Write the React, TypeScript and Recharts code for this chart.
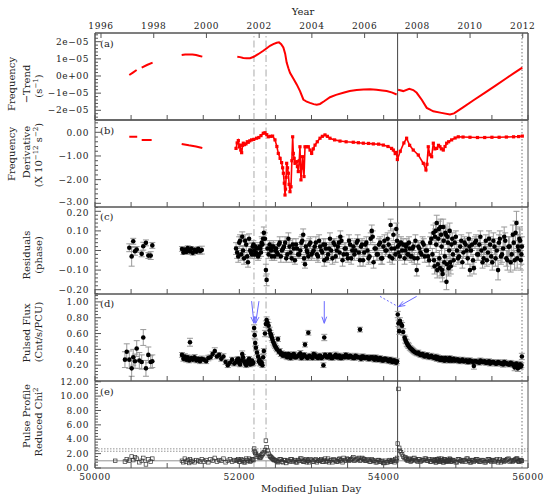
import React from 'react';
import { ComposedChart, Line, Scatter, ErrorBar, XAxis, YAxis, ReferenceLine, ReferenceArea } from 'recharts';

const W = 558;
const H = 504;
const LEFT = 95;
const RIGHT = 528;
const PANEL_H = 87;
const AXIS_W = 40;
const AXIS_H = 20;
const FONT = 'DejaVu Serif';
const TICK_FS = 9;
const TEXT = '#222';
const FRAME = '#555';
const RED = '#ff0000';
const BLUE = '#6a6aff';

const MJD_DOMAIN: [number, number] = [50000, 56000];
const mjdTicks = [50000, 50500, 51000, 51500, 52000, 52500, 53000, 53500, 54000, 54500, 55000, 55500, 56000];
const mjdLabelTicks = [50000, 52000, 54000, 56000];
const yearTicks = [50083, 50814, 51544, 52275, 53005, 53736, 54466, 55197, 55927];
const yearLabels = ['1996', '1998', '2000', '2002', '2004', '2006', '2008', '2010', '2012'];

// vertical markers (MJD)
const glitchEpochs = [52203, 52370];
const outburstEpoch = 54193;
const lastEpoch = 55917;

// (a) frequency minus trend, units of 1e-5 s^-1 (null = gap)
const freqMjd = [50475, 50525, 50577, 50610, 50647, 50720, 50798, 51000, 51201, 51250, 51300, 51350, 51400, 51450, 51487, 51700,
  51972, 52010, 52055, 52100, 52148, 52200, 52260, 52332, 52380, 52425, 52470, 52518, 52550, 52580, 52610, 52635, 52656, 52680,
  52702, 52748, 52795, 52841, 52887, 52934, 52979, 53030, 53072, 53118, 53180, 53256, 53340, 53441, 53530, 53626, 53720, 53811,
  53900, 53980, 54042, 54120, 54180, 54190, 54200, 54272, 54355, 54410, 54458, 54530, 54597, 54650, 54688, 54800, 54919, 54975,
  55100, 55250, 55400, 55550, 55700, 55800, 55921];
const freqTrend = [0.06, 0.2, 0.35, null, 0.49, 0.64, 0.78, null, 1.22, 1.25, 1.26, 1.25, 1.22, 1.17, 1.13, null,
  1.12, 1.1, 1.05, 1.03, 1.04, 1.12, 1.27, 1.47, 1.62, 1.76, 1.86, 1.94, 1.96, 1.86, 1.66, 1.3, 0.78, 0.45,
  0.19, -0.14, -0.49, -0.88, -1.37, -1.5, -1.57, -1.64, -1.67, -1.63, -1.46, -1.24, -1.1, -0.98, -0.88, -0.82, -0.79, -0.78,
  -0.8, -0.84, -0.88, -0.97, -1.08, null, -0.8, -0.88, -0.75, -0.82, -0.98, -1.4, -1.86, -1.98, -2.06, -2.15, -2.25, -2.18,
  -1.83, -1.4, -0.98, -0.56, -0.13, 0.15, 0.49];

// (b) frequency derivative, 1e-12 s^-2
const fdotEarlyMjd = [50475, 50530, 50585, 50615, 50647, 50720, 50785, 51000, 51201, 51300, 51400, 51487];
const fdotEarly = [-0.19, -0.19, -0.19, null, -0.32, -0.32, -0.32, null, -0.49, -0.55, -0.6, -0.66];
const fdotMjd = [51954, 51970, 51986, 52000, 52009, 52020, 52032, 52045, 52055, 52070, 52092, 52110, 52124, 52145, 52170, 52200,
  52239, 52270, 52300, 52332, 52355, 52380, 52401, 52430, 52461, 52494, 52520, 52540, 52565, 52586, 52600, 52610, 52623, 52633,
  52640, 52648, 52656, 52668, 52679, 52690, 52702, 52716, 52728, 52739, 52748, 52760, 52771, 52794, 52805, 52817, 52830, 52840,
  52854, 52866, 52877, 52888, 52896, 52910, 52935, 52956, 52980, 53002, 53025, 53049, 53080, 53118, 53150, 53187, 53220, 53256,
  53320, 53395, 53480, 53579, 53650, 53718, 53790, 53857, 53930, 53995, 54060, 54110, 54134, 54160, 54175, 54190, 54230, 54280,
  54318, 54360, 54410, 54480, 54549, 54586, 54600, 54618, 54640, 54665, 54688, 54710, 54734, 54760, 54780, 54800, 54826, 54850,
  54873, 54900, 54942, 54990, 55034, 55100, 55196, 55300, 55400, 55500, 55600, 55700, 55800, 55870, 55921];
const fdot = [-0.68, -0.45, -0.35, -0.62, -0.54, -0.75, -0.86, -0.55, -0.46, -0.52, -0.49, -0.4, -0.42, -0.36, -0.32, -0.3,
  -0.25, -0.22, -0.14, -0.04, -0.02, -0.1, -0.19, -0.17, -0.16, -0.32, -0.6, -0.89, -1.1, -1.28, -1.5, -1.73, -2.15, -2.65,
  -2.4, -1.9, -1.31, -1.5, -1.73, -2.2, -2.51, -2.3, -1.2, -0.19, -0.89, -1.1, -1.31, -1.24, -1.45, -1.66, -1.2, -0.61,
  -2.01, -1.5, -1.03, -1.5, -1.87, -0.61, -0.61, -0.61, -0.75, -0.89, -0.7, -0.54, -0.4, -0.25, -0.17, -0.11, -0.17, -0.25,
  -0.32, -0.37, -0.4, -0.42, -0.44, -0.46, -0.47, -0.49, -0.5, -0.54, -0.6, -0.68, -0.75, -0.9, -0.85, -1.15, -0.8, -0.45,
  -0.25, -0.55, -0.75, -0.96, -1.31, -1.59, -1.35, -0.61, -0.95, -1.03, -0.46, -0.7, -0.68, -0.55, -0.61, -0.7, -0.75, -0.6,
  -0.46, -0.4, -0.32, -0.24, -0.19, -0.2, -0.21, -0.22, -0.22, -0.21, -0.21, -0.2, -0.19, -0.18, -0.16];

// (c)-(e) per-observation values
const epochs = [
  50280, 50415, 50440, 50475, 50508, 50530, 50554, 50578, 50614, 50647, 50669, 50706, 50739, 50772, 50794,
  51205, 51225, 51245, 51265, 51285, 51305, 51316, 51335, 51355, 51380, 51405, 51430, 51455, 51480,
  51510, 51540, 51570, 51600, 51630, 51660, 51690, 51720, 51750, 51780, 51810, 51840, 51870, 51900, 51930,
  51955, 51985, 52010, 52040, 52065, 52095, 52120, 52150, 52175, 52195,
  52205, 52212, 52220, 52230, 52245, 52260, 52280, 52300, 52320, 52340,
  52355, 52368, 52378, 52390, 52405, 52420, 52440, 52460, 52485, 52510,
  52535, 52560, 52590, 52620, 52650, 52680, 52710, 52740, 52770, 52800,
  52830, 52860, 52885, 52910, 52935, 52956, 52985, 53015, 53045, 53075,
  53105, 53135, 53165, 53177, 53200, 53230, 53256, 53290, 53320, 53350,
  53380, 53400, 53430, 53460, 53490, 53520, 53550, 53580, 53610, 53640,
  53672, 53700, 53730, 53760, 53790, 53820, 53835, 53860, 53890, 53920,
  53950, 53980, 54010, 54040, 54070, 54097, 54120, 54150, 54175, 54195,
  54205, 54215, 54225, 54240, 54255, 54270, 54290, 54310, 54330, 54350,
  54375, 54400, 54425, 54458, 54480, 54510, 54540, 54570, 54600, 54630,
  54660, 54690, 54705, 54720, 54735, 54750, 54765, 54780, 54795, 54810,
  54825, 54840, 54855, 54870, 54885, 54900, 54915, 54930, 54950, 54970,
  55000, 55030, 55060, 55090, 55120, 55150, 55180, 55196, 55225, 55250,
  55280, 55310, 55340, 55370, 55400, 55430, 55460, 55490, 55520, 55550,
  55585, 55610, 55640, 55670, 55700, 55730, 55760, 55790, 55815, 55840,
  55860, 55880, 55900, 55915];

const residuals = [
  null, null, null, 0.014, -0.03, 0.047, -0.004, 0.005, null, -0.017, 0.022, 0.039, -0.026, -0.026, 0.026,
  0.008, -0.01, 0.005, -0.008, 0.012, 0.0, -0.005, 0.01, -0.012, 0.004, -0.006, 0.009, -0.003, 0.002,
  null, null, null, null, null, null, null, null, null, null, null, null, null, null, null,
  0.01, -0.03, 0.05, 0.07, -0.04, 0.03, -0.06, 0.0, -0.02, 0.03,
  0.0, -0.02, 0.02, -0.01, 0.01, -0.03, 0.02, -0.01, 0.03, 0.09,
  0.06, -0.1, -0.15, 0.01, -0.02, 0.03, 0.0, 0.02, -0.03, 0.01,
  -0.02, 0.04, 0.0, 0.02, -0.04, 0.06, -0.01, 0.03, -0.05, 0.01,
  -0.02, 0.04, 0.08, -0.07, 0.0, -0.03, 0.04, -0.01, 0.02, -0.02,
  0.05, 0.0, 0.03, -0.05, 0.01, -0.02, 0.06, -0.04, 0.03, 0.0,
  0.04, 0.07, -0.05, 0.01, -0.02, 0.05, -0.04, 0.02, 0.0, 0.05,
  -0.05, 0.03, -0.01, 0.04, -0.04, 0.06, 0.1, -0.06, 0.01, -0.02,
  0.04, -0.04, 0.05, 0.0, 0.03, 0.13, -0.04, 0.01, 0.11, 0.02,
  -0.01, 0.03, -0.03, 0.04, 0.0, 0.03, -0.04, 0.02, -0.02, 0.04,
  -0.03, 0.01, -0.04, -0.1, 0.02, -0.01, 0.04, -0.03, 0.0, -0.05,
  0.06, 0.09, -0.08, 0.1, 0.14, -0.07, 0.11, -0.09, 0.08, -0.1,
  0.12, -0.06, 0.09, -0.16, 0.07, -0.09, 0.1, -0.08, 0.06, -0.05,
  0.07, -0.04, 0.02, -0.06, 0.04, 0.0, 0.06, -0.1, 0.03, -0.09,
  0.05, -0.02, 0.07, -0.06, 0.01, -0.05, 0.06, -0.03, 0.05, -0.04,
  -0.1, 0.06, -0.02, 0.07, -0.04, 0.02, -0.06, 0.08, -0.05, 0.14,
  0.02, 0.06, -0.05, 0.02];

const residualErr = [
  null, null, null, 0.02, 0.05, 0.015, 0.02, 0.015, null, 0.015, 0.02, 0.015, 0.015, 0.02, 0.015,
  0.012, 0.01, 0.012, 0.01, 0.012, 0.01, 0.015, 0.01, 0.012, 0.01, 0.012, 0.01, 0.015, 0.02,
  null, null, null, null, null, null, null, null, null, null, null, null, null, null, null,
  0.03, 0.03, 0.03, 0.025, 0.03, 0.03, 0.025, 0.02, 0.02, 0.02,
  0.02, 0.02, 0.02, 0.02, 0.02, 0.02, 0.02, 0.02, 0.03, 0.03,
  0.03, 0.03, 0.03, 0.02, 0.02, 0.02, 0.02, 0.02, 0.02, 0.02,
  0.02, 0.03, 0.03, 0.03, 0.02, 0.03, 0.02, 0.03, 0.02, 0.03,
  0.02, 0.03, 0.03, 0.02, 0.03, 0.02, 0.03, 0.03, 0.02, 0.03,
  0.03, 0.02, 0.03, 0.03, 0.02, 0.03, 0.03, 0.03, 0.03, 0.02,
  0.03, 0.03, 0.03, 0.03, 0.02, 0.03, 0.03, 0.03, 0.02, 0.03,
  0.03, 0.03, 0.02, 0.03, 0.03, 0.03, 0.03, 0.03, 0.02, 0.03,
  0.03, 0.03, 0.03, 0.02, 0.03, 0.03, 0.03, 0.03, 0.03, 0.02,
  0.02, 0.02, 0.02, 0.03, 0.02, 0.03, 0.03, 0.02, 0.03, 0.03,
  0.02, 0.03, 0.03, 0.03, 0.03, 0.02, 0.03, 0.03, 0.03, 0.03,
  0.03, 0.04, 0.04, 0.04, 0.04, 0.04, 0.04, 0.04, 0.04, 0.04,
  0.04, 0.04, 0.04, 0.04, 0.04, 0.04, 0.04, 0.04, 0.03, 0.03,
  0.03, 0.03, 0.03, 0.03, 0.03, 0.03, 0.03, 0.03, 0.03, 0.03,
  0.03, 0.03, 0.03, 0.03, 0.03, 0.03, 0.04, 0.04, 0.04, 0.04,
  0.05, 0.04, 0.04, 0.05, 0.04, 0.05, 0.05, 0.05, 0.05, 0.06,
  0.06, 0.06, 0.05, 0.05];

const pulsedFlux = [
  null, 0.27, 0.37, 0.27, 0.16, 0.3, 0.25, 0.41, 0.26, 0.24, 0.55, 0.16, 0.33, 0.24, 0.25,
  0.33, 0.28, 0.31, 0.27, 0.3, 0.26, 0.49, 0.29, 0.27, 0.3, 0.26, 0.28, 0.25, 0.28,
  0.27, 0.25, 0.29, 0.3, 0.34, 0.38, 0.31, 0.33, 0.28, 0.31, 0.24, 0.2, 0.23, 0.27, 0.22,
  0.24, 0.28, 0.21, 0.34, 0.25, 0.2, 0.24, 0.21, 0.26, 0.23,
  0.67, 0.58, 0.48, 0.42, 0.36, 0.31, 0.27, 0.24, 0.2, 0.38,
  0.6, 0.72, 0.77, 0.74, 0.7, 0.64, 0.58, 0.52, 0.46, 0.42,
  0.53, 0.38, 0.35, 0.33, 0.31, 0.34, 0.29, 0.33, 0.3, 0.31,
  0.33, 0.29, 0.32, 0.46, 0.3, 0.61, 0.31, 0.29, 0.33, 0.3,
  0.32, 0.29, 0.2, 0.55, 0.31, 0.3, 0.33, 0.29, 0.31, 0.3,
  0.32, 0.29, 0.31, 0.3, 0.32, 0.3, 0.31, 0.29, 0.32, 0.3,
  0.65, 0.31, 0.29, 0.3, 0.28, 0.3, 0.29, 0.28, 0.3, 0.27,
  0.29, 0.26, 0.28, 0.27, 0.25, 0.27, 0.24, 0.26, 0.23, 0.84,
  0.73, 0.63, 0.76, 0.72, 0.7, 0.62, 0.55, 0.5, 0.46, 0.44,
  0.41, 0.39, 0.37, 0.35, 0.36, 0.33, 0.34, 0.31, 0.33, 0.3,
  0.32, 0.3, 0.29, 0.31, 0.28, 0.3, 0.28, 0.27, 0.29, 0.27,
  0.28, 0.26, 0.29, 0.27, 0.28, 0.26, 0.29, 0.27, 0.26, 0.28,
  0.26, 0.27, 0.25, 0.27, 0.25, 0.26, 0.24, 0.26, 0.25, 0.19,
  0.25, 0.24, 0.26, 0.24, 0.25, 0.23, 0.25, 0.23, 0.24, 0.22,
  0.24, 0.23, 0.22, 0.24, 0.22, 0.21, 0.23, 0.21, 0.17, 0.22,
  0.16, 0.2, 0.18, 0.31];

const pulsedFluxErr = [
  null, 0.1, 0.1, 0.11, 0.1, 0.1, 0.09, 0.1, 0.1, 0.09, 0.1, 0.1, 0.1, 0.08, 0.08,
  0.03, 0.03, 0.035, 0.03, 0.03, 0.03, 0.05, 0.03, 0.03, 0.035, 0.03, 0.03, 0.03, 0.035,
  0.03, 0.03, 0.035, 0.03, 0.03, 0.04, 0.03, 0.03, 0.03, 0.035, 0.03, 0.03, 0.035, 0.03, 0.03,
  0.03, 0.03, 0.03, 0.04, 0.03, 0.03, 0.03, 0.03, 0.03, 0.03,
  0.04, 0.04, 0.04, 0.03, 0.03, 0.03, 0.03, 0.03, 0.03, 0.03,
  0.04, 0.04, 0.04, 0.04, 0.04, 0.04, 0.03, 0.03, 0.03, 0.03,
  0.03, 0.03, 0.03, 0.03, 0.03, 0.03, 0.03, 0.03, 0.03, 0.03,
  0.03, 0.03, 0.03, 0.03, 0.03, 0.03, 0.03, 0.03, 0.03, 0.03,
  0.03, 0.03, 0.03, 0.04, 0.03, 0.03, 0.03, 0.03, 0.03, 0.03,
  0.03, 0.03, 0.03, 0.03, 0.03, 0.03, 0.03, 0.03, 0.03, 0.03,
  0.03, 0.03, 0.03, 0.03, 0.03, 0.03, 0.03, 0.03, 0.03, 0.03,
  0.03, 0.03, 0.03, 0.03, 0.03, 0.03, 0.03, 0.03, 0.03, 0.04,
  0.04, 0.04, 0.04, 0.04, 0.04, 0.04, 0.03, 0.03, 0.03, 0.03,
  0.03, 0.03, 0.03, 0.03, 0.03, 0.03, 0.03, 0.03, 0.03, 0.03,
  0.03, 0.03, 0.03, 0.03, 0.03, 0.03, 0.03, 0.03, 0.03, 0.03,
  0.03, 0.03, 0.03, 0.03, 0.03, 0.03, 0.03, 0.03, 0.03, 0.03,
  0.03, 0.03, 0.03, 0.03, 0.03, 0.03, 0.03, 0.03, 0.03, 0.04,
  0.03, 0.03, 0.03, 0.03, 0.03, 0.03, 0.03, 0.03, 0.03, 0.03,
  0.03, 0.03, 0.03, 0.03, 0.03, 0.03, 0.03, 0.03, 0.04, 0.03,
  0.04, 0.03, 0.03, 0.04];

const chi2 = [
  1.0, 0.9, 1.2, 1.0, 1.6, 1.1, 1.5, 1.3, 0.8, 1.0, 1.4, 0.5, 1.2, 0.9, 1.3,
  1.0, 0.8, 1.3, 0.9, 1.1, 0.7, 1.2, 0.9, 1.0, 0.8, 1.1, 1.0, 0.9, 1.2,
  0.9, 1.1, 0.8, 1.2, 1.0, 1.4, 0.9, 1.1, 1.0, 1.3, 0.8, 1.0, 1.2, 0.9, 1.1,
  1.0, 1.2, 0.9, 1.1, 0.8, 1.3, 1.0, 0.9, 1.2, 1.1,
  2.7, 2.3, 2.1, 1.9, 1.6, 1.8, 1.4, 1.5, 1.9, 2.2,
  2.5, 3.8, 2.9, 2.4, 2.0, 1.7, 1.5, 1.3, 1.1, 1.0,
  0.8, 1.2, 0.9, 1.1, 0.7, 1.0, 1.2, 0.9, 1.1, 0.8,
  1.0, 1.3, 0.9, 1.1, 0.8, 1.0, 1.2, 0.9, 1.1, 0.8,
  1.0, 1.2, 0.9, 1.1, 0.9, 1.3, 1.0, 0.8, 1.1, 0.9,
  1.2, 1.0, 0.8, 1.1, 1.3, 1.0, 1.2, 1.5, 1.1, 1.3,
  1.0, 1.4, 1.2, 1.0, 1.1, 0.9, 1.2, 1.0, 0.8, 1.1,
  0.9, 1.0, 0.7, 0.8, 1.0, 0.9, 1.1, 0.8, 1.0, 3.4,
  11.0, 2.8, 2.4, 2.2, 1.9, 1.6, 1.4, 1.2, 1.0, 1.3,
  0.9, 1.1, 1.4, 1.0, 1.2, 0.9, 1.1, 1.3, 1.0, 1.2,
  0.9, 1.1, 1.0, 0.8, 1.2, 1.0, 1.3, 0.9, 1.1, 1.0,
  0.8, 1.2, 1.0, 0.9, 1.1, 1.0, 1.3, 0.9, 1.1, 1.0,
  0.8, 1.2, 1.0, 0.9, 1.1, 1.3, 1.0, 0.8, 1.1, 0.9,
  1.2, 1.0, 0.9, 1.1, 0.8, 1.0, 1.2, 0.9, 1.1, 1.0,
  0.8, 1.2, 1.0, 0.9, 1.1, 1.3, 1.0, 0.9, 1.1, 1.3,
  1.0, 0.9, 1.1, 1.0];

// further observations in the densely sampled years (2001-2012)
const epochsFill = [
  51970, 51998, 52025, 52052, 52080, 52108, 52135, 52162, 52185,
  52270, 52290, 52310, 52330,
  52430, 52450, 52472, 52497, 52522, 52547, 52575, 52605, 52635, 52665,
  52695, 52725, 52755, 52785, 52815, 52845, 52872, 52897, 52922, 52945,
  52970, 53000, 53030, 53060, 53090, 53120, 53150, 53188, 53215, 53243,
  53273, 53305, 53335, 53365, 53390, 53415, 53445, 53475, 53505, 53535,
  53565, 53595, 53625, 53656, 53686, 53715, 53745, 53775, 53805, 53848,
  53875, 53905, 53935, 53965, 53995, 54025, 54055, 54083, 54108, 54135,
  54162, 54185,
  54300, 54320, 54340, 54362, 54388, 54412, 54440, 54470, 54495, 54525,
  54555, 54585, 54615, 54645, 54675, 54697, 54712, 54727, 54742, 54757,
  54772, 54787, 54802, 54817, 54832, 54847, 54862, 54877, 54892, 54907,
  54922, 54940, 54960, 54985, 55015, 55045, 55075, 55105, 55135, 55165,
  55188, 55210, 55238, 55265, 55295, 55325, 55355, 55385, 55415, 55445,
  55475, 55505, 55535, 55568, 55598, 55625, 55655, 55685, 55715, 55745,
  55775, 55802, 55828, 55850, 55870, 55890, 55908];

const residualsFill = [
  -0.01, 0.04, -0.02, 0.0, 0.05, -0.03, 0.06, -0.01, 0.02,
  -0.02, 0.01, 0.04, 0.06,
  0.01, -0.03, 0.02, 0.0, -0.01, 0.03, -0.03, 0.01, 0.04, -0.02,
  0.02, -0.04, 0.01, 0.03, -0.02, 0.0, 0.05, -0.04, 0.02, -0.01,
  0.03, -0.02, 0.0, 0.04, -0.03, 0.02, -0.01, 0.03, -0.04, 0.01,
  0.0, 0.04, -0.03, 0.02, -0.01, 0.05, -0.02, 0.01, -0.04, 0.03,
  0.0, -0.02, 0.04, -0.01, 0.02, -0.05, 0.03, 0.0, -0.03, 0.07,
  0.01, -0.02, 0.03, -0.04, 0.02, 0.0, 0.06, -0.03, 0.01, 0.08,
  -0.02, 0.05,
  0.0, 0.03, -0.02, 0.01, -0.03, 0.02, 0.05, -0.04, 0.01, -0.02,
  0.03, 0.0, -0.03, 0.04, -0.02, -0.05, 0.07, 0.03, -0.1, 0.06,
  -0.04, 0.12, 0.02, -0.12, 0.05, -0.03, 0.08, -0.07, 0.04, 0.0,
  -0.06, 0.03, -0.02, 0.04, 0.0, -0.03, 0.05, -0.01, 0.03, -0.04,
  0.02, 0.0, -0.05, 0.04, -0.02, 0.03, 0.0, -0.04, 0.05, -0.01,
  0.03, -0.06, 0.02, 0.0, 0.04, -0.03, 0.01, 0.05, -0.05, 0.02,
  -0.02, 0.04, 0.09, -0.04, 0.0, 0.05, -0.02];

const residualFillErr = [
  0.03, 0.03, 0.03, 0.025, 0.03, 0.03, 0.025, 0.02, 0.02,
  0.02, 0.02, 0.03, 0.03,
  0.02, 0.02, 0.03, 0.02, 0.03, 0.02, 0.03, 0.02, 0.03, 0.02,
  0.03, 0.02, 0.03, 0.03, 0.02, 0.03, 0.03, 0.02, 0.03, 0.02,
  0.03, 0.03, 0.02, 0.03, 0.03, 0.02, 0.03, 0.03, 0.02, 0.03,
  0.03, 0.02, 0.03, 0.03, 0.03, 0.02, 0.03, 0.03, 0.02, 0.03,
  0.03, 0.03, 0.02, 0.03, 0.03, 0.03, 0.02, 0.03, 0.03, 0.03,
  0.02, 0.03, 0.03, 0.03, 0.02, 0.03, 0.03, 0.03, 0.02, 0.03,
  0.03, 0.03,
  0.02, 0.03, 0.02, 0.03, 0.03, 0.02, 0.03, 0.03, 0.03, 0.02,
  0.03, 0.03, 0.03, 0.03, 0.03, 0.04, 0.04, 0.04, 0.04, 0.04,
  0.04, 0.04, 0.04, 0.04, 0.04, 0.04, 0.04, 0.04, 0.04, 0.04,
  0.04, 0.03, 0.03, 0.03, 0.03, 0.03, 0.03, 0.03, 0.03, 0.03,
  0.03, 0.03, 0.03, 0.03, 0.03, 0.03, 0.03, 0.03, 0.03, 0.04,
  0.04, 0.04, 0.04, 0.04, 0.04, 0.04, 0.05, 0.04, 0.05, 0.05,
  0.05, 0.05, 0.06, 0.05, 0.05, 0.06, 0.05];

const pulsedFluxFill = [
  0.27, 0.23, 0.26, 0.3, 0.22, 0.25, 0.28, 0.24, 0.22,
  0.25, 0.22, 0.23, 0.3,
  0.6, 0.55, 0.49, 0.44, 0.4, 0.37, 0.34, 0.32, 0.34, 0.3,
  0.33, 0.31, 0.34, 0.3, 0.32, 0.35, 0.3, 0.33, 0.31, 0.29,
  0.32, 0.3, 0.34, 0.31, 0.29, 0.32, 0.3, 0.33, 0.3, 0.32,
  0.29, 0.31, 0.33, 0.3, 0.32, 0.29, 0.31, 0.33, 0.3, 0.32,
  0.3, 0.29, 0.31, 0.3, 0.28, 0.31, 0.29, 0.3, 0.28, 0.3,
  0.27, 0.29, 0.27, 0.28, 0.26, 0.28, 0.26, 0.27, 0.25, 0.26,
  0.24, 0.25,
  0.52, 0.48, 0.45, 0.42, 0.4, 0.38, 0.36, 0.35, 0.34, 0.33,
  0.32, 0.32, 0.31, 0.31, 0.3, 0.3, 0.29, 0.3, 0.28, 0.29,
  0.28, 0.27, 0.29, 0.27, 0.28, 0.26, 0.28, 0.27, 0.27, 0.26,
  0.28, 0.26, 0.27, 0.26, 0.27, 0.25, 0.26, 0.25, 0.26, 0.24,
  0.26, 0.25, 0.24, 0.25, 0.24, 0.23, 0.25, 0.24, 0.23, 0.24,
  0.22, 0.24, 0.23, 0.22, 0.23, 0.22, 0.21, 0.23, 0.22, 0.21,
  0.22, 0.2, 0.21, 0.2, 0.19, 0.21, 0.2];

const pulsedFluxFillErr = [
  0.03, 0.03, 0.03, 0.035, 0.03, 0.03, 0.03, 0.03, 0.03,
  0.03, 0.03, 0.03, 0.035,
  0.04, 0.04, 0.035, 0.03, 0.03, 0.03, 0.03, 0.03, 0.03, 0.03,
  0.03, 0.03, 0.03, 0.03, 0.03, 0.035, 0.03, 0.03, 0.03, 0.03,
  0.03, 0.03, 0.03, 0.03, 0.03, 0.03, 0.03, 0.03, 0.03, 0.03,
  0.03, 0.03, 0.035, 0.03, 0.03, 0.03, 0.03, 0.03, 0.03, 0.03,
  0.03, 0.03, 0.03, 0.03, 0.03, 0.03, 0.03, 0.03, 0.03, 0.03,
  0.03, 0.03, 0.03, 0.03, 0.03, 0.03, 0.03, 0.03, 0.03, 0.03,
  0.03, 0.03,
  0.04, 0.04, 0.035, 0.03, 0.03, 0.03, 0.03, 0.03, 0.03, 0.03,
  0.03, 0.03, 0.03, 0.03, 0.03, 0.03, 0.03, 0.03, 0.03, 0.03,
  0.03, 0.03, 0.03, 0.03, 0.03, 0.03, 0.03, 0.03, 0.03, 0.03,
  0.03, 0.03, 0.03, 0.03, 0.03, 0.03, 0.03, 0.03, 0.035, 0.03,
  0.03, 0.03, 0.03, 0.03, 0.03, 0.03, 0.03, 0.03, 0.03, 0.03,
  0.03, 0.03, 0.03, 0.03, 0.03, 0.03, 0.035, 0.03, 0.03, 0.03,
  0.03, 0.03, 0.035, 0.03, 0.03, 0.035, 0.03];

const chi2Fill = [
  1.1, 0.9, 1.2, 1.0, 0.8, 1.1, 1.3, 1.0, 1.2,
  1.6, 1.5, 1.7, 2.0,
  1.6, 1.4, 1.2, 1.1, 0.9, 1.0, 1.2, 0.8, 1.1, 1.0,
  0.9, 1.2, 1.0, 0.8, 1.1, 1.3, 1.0, 0.9, 1.2, 1.0,
  0.8, 1.1, 0.9, 1.2, 1.0, 1.1, 0.9, 1.3, 1.0, 0.8,
  1.1, 1.2, 1.0, 0.9, 1.3, 1.1, 1.4, 1.0, 1.2, 1.1,
  1.3, 1.0, 1.2, 1.4, 1.1, 1.3, 1.0, 1.2, 0.9, 1.1,
  1.0, 0.8, 1.1, 0.9, 0.7, 1.0, 0.8, 1.1, 0.9, 1.0,
  1.2, 1.4,
  1.5, 1.3, 1.1, 1.2, 1.0, 1.3, 1.1, 0.9, 1.2, 1.0,
  1.1, 1.3, 1.0, 0.9, 1.2, 1.0, 1.1, 0.8, 1.2, 1.0,
  0.9, 1.1, 1.3, 1.0, 0.8, 1.2, 1.0, 0.9, 1.1, 1.0,
  1.2, 0.9, 1.1, 1.0, 0.8, 1.2, 1.0, 1.1, 0.9, 1.3,
  1.0, 0.8, 1.1, 1.0, 1.2, 0.9, 1.1, 1.0, 0.8, 1.2,
  1.0, 1.1, 0.9, 1.2, 1.0, 0.8, 1.1, 1.0, 1.2, 0.9,
  1.1, 1.0, 1.2, 1.3, 0.9, 1.1, 1.0];

// chi^2 reference levels in (e)
const chiUnity = 1;
const chiLimits = [2.33, 2.66];

type Pt = { mjd: number; v: number | null; err?: number };

function toLine(xs: number[], ys: (number | null)[]): Pt[] {
  return xs.map((x, i) => ({ mjd: x, v: ys[i] ?? null }));
}

function toPoints(xs: number[], ys: (number | null)[], errs?: (number | null)[]): Pt[] {
  const out: Pt[] = [];
  xs.forEach((x, i) => {
    const y = ys[i];
    if (y === null || y === undefined) return;
    out.push({ mjd: x, v: y, err: errs ? errs[i] ?? 0 : 0 });
  });
  return out;
}

const freqData = toLine(freqMjd, freqTrend);
const fdotEarlyData = toLine(fdotEarlyMjd, fdotEarly);
const fdotData = toLine(fdotMjd, fdot);
const residualData = [...toPoints(epochs, residuals, residualErr), ...toPoints(epochsFill, residualsFill, residualFillErr)];
const fluxData = [...toPoints(epochs, pulsedFlux, pulsedFluxErr), ...toPoints(epochsFill, pulsedFluxFill, pulsedFluxFillErr)];
const chiData = [...toPoints(epochs, chi2), ...toPoints(epochsFill, chi2Fill)];

function withMinors(domain: [number, number], majors: number[], step: number) {
  const out = [...majors];
  const k0 = Math.ceil(domain[0] / step - 1e-9);
  const k1 = Math.floor(domain[1] / step + 1e-9);
  for (let k = k0; k <= k1; k++) {
    const v = +(k * step).toFixed(6);
    if (!majors.some((m) => Math.abs(m - v) < 1e-6)) out.push(v);
  }
  return out.sort((a, b) => a - b);
}

function MjdTick(props: any) {
  const { x, y, payload, labelled } = props;
  const v = payload.value;
  const show = labelled && mjdLabelTicks.includes(v);
  return (
    <g>
      <line x1={x} x2={x} y1={y} y2={y - 5} stroke={FRAME} strokeWidth={1} />
      {show && (
        <text x={x} y={y + 12} textAnchor="middle" fontFamily={FONT} fontSize={TICK_FS} letterSpacing={0.6} fill={TEXT}>
          {v}
        </text>
      )}
    </g>
  );
}

function YearTick(props: any) {
  const { x, y, payload } = props;
  const i = yearTicks.indexOf(payload.value);
  return (
    <g>
      <line x1={x} x2={x} y1={y} y2={y + 5} stroke={FRAME} strokeWidth={1} />
      <text x={x} y={y - 4.5} textAnchor="middle" fontFamily={FONT} fontSize={TICK_FS} letterSpacing={0.6} fill={TEXT}>
        {yearLabels[i]}
      </text>
    </g>
  );
}

function ValueTick(props: any) {
  const { x, y, payload, majors, labels, nudge } = props;
  const i = majors.findIndex((m: number) => Math.abs(m - payload.value) < 1e-6);
  const major = i >= 0;
  const dy = nudge && nudge[i] ? nudge[i] : 0;
  return (
    <g>
      <line x1={x} x2={x + (major ? 6 : 3)} y1={y} y2={y} stroke={FRAME} strokeWidth={1} />
      {major && (
        <text x={x - 6} y={y + 3.2 + dy} textAnchor="end" fontFamily={FONT} fontSize={TICK_FS} letterSpacing={0.6} fill={TEXT}>
          {labels[i]}
        </text>
      )}
    </g>
  );
}

function arrowShape(p: any) {
  const { x1, y1, x2, y2 } = p;
  if (![x1, y1, x2, y2].every((n) => Number.isFinite(n))) return <g />;
  const a = Math.atan2(y2 - y1, x2 - x1);
  const L = 7;
  const s = 0.35;
  return (
    <g stroke={BLUE} strokeWidth={1} fill="none">
      <line x1={x1} y1={y1} x2={x2} y2={y2} />
      <line x1={x2} y1={y2} x2={x2 - L * Math.cos(a - s)} y2={y2 - L * Math.sin(a - s)} />
      <line x1={x2} y1={y2} x2={x2 - L * Math.cos(a + s)} y2={y2 - L * Math.sin(a + s)} />
    </g>
  );
}

const dot = (p: any) => <circle key={`d${p.index ?? ''}-${p.cx}`} cx={p.cx} cy={p.cy} r={2.3} fill="#000" />;
const openSquare = (p: any) => (
  <rect key={`s${p.cx}-${p.cy}`} x={p.cx - 1.8} y={p.cy - 1.8} width={3.6} height={3.6} fill="none" stroke="#333" strokeWidth={0.7} />
);
const redSquare = (p: any) =>
  p.cy == null ? <g key={`r${p.index}`} /> : (
    <rect key={`r${p.index}`} x={p.cx - 1.6} y={p.cy - 1.6} width={3.2} height={3.2} fill={RED} />
  );

function markerLines() {
  return [
    ...glitchEpochs.map((g) => (
      <ReferenceLine key={`g${g}`} x={g} stroke="#aaa" strokeWidth={1} strokeDasharray="7 3 1.5 3" />
    )),
    <ReferenceLine key="ob" x={outburstEpoch} stroke="#444" strokeWidth={1} />,
    <ReferenceLine key="end" x={lastEpoch} stroke="#777" strokeWidth={1} strokeDasharray="1.5 2" />,
  ];
}

interface PanelProps {
  top: number;
  domain: [number, number];
  majors: number[];
  labels: string[];
  nudge?: number[];
  minorStep: number;
  years?: boolean;
  mjdText?: boolean;
  children?: React.ReactNode;
}

function Panel({ top, domain, majors, labels, nudge, minorStep, years, mjdText, children }: PanelProps) {
  const ticks = withMinors(domain, majors, minorStep);
  return (
    <div style={{ position: 'absolute', left: 0, top: 0 }}>
      <ComposedChart
        width={W}
        height={H}
        margin={{
          top: years ? top - AXIS_H : top,
          right: W - RIGHT,
          bottom: H - top - PANEL_H - AXIS_H,
          left: LEFT - AXIS_W,
        }}
      >
        <XAxis
          dataKey="mjd"
          type="number"
          domain={MJD_DOMAIN}
          allowDataOverflow
          ticks={mjdTicks}
          interval={0}
          height={AXIS_H}
          axisLine={false}
          tickLine={false}
          tickSize={0}
          tickMargin={0}
          tick={<MjdTick labelled={!!mjdText} />}
        />
        {years ? (
          <XAxis
            xAxisId="yr"
            dataKey="mjd"
            orientation="top"
            type="number"
            domain={MJD_DOMAIN}
            allowDataOverflow
            ticks={yearTicks}
            interval={0}
            height={AXIS_H}
            axisLine={false}
            tickLine={false}
            tickSize={0}
            tickMargin={0}
            tick={<YearTick />}
          />
        ) : null}
        <YAxis
          type="number"
          domain={domain}
          allowDataOverflow
          ticks={ticks}
          interval={0}
          width={AXIS_W}
          axisLine={false}
          tickLine={false}
          tickSize={0}
          tickMargin={0}
          tick={<ValueTick majors={majors} labels={labels} nudge={nudge} />}
        />
        <ReferenceArea x1={50000} x2={56000} y1={domain[0]} y2={domain[1]} fill="none" stroke={FRAME} strokeWidth={1} ifOverflow="visible" />
        {years ? (
          <ReferenceArea xAxisId="yr" x1={50000} x2={56000} y1={domain[0]} y2={domain[1]} fill="none" stroke={FRAME} strokeWidth={1} ifOverflow="visible" />
        ) : null}
        {markerLines()}
        {children}
      </ComposedChart>
    </div>
  );
}

const TOPS = [33, 120, 207, 294, 381];

function VText({ x, y, children }: { x: number; y: number; children: React.ReactNode }) {
  return (
    <text x={x} y={y} transform={`rotate(-90 ${x} ${y})`} textAnchor="middle">
      {children}
    </text>
  );
}

export default function App() {
  return (
    <div style={{ position: 'absolute', left: 0, top: 0, width: W, height: H, background: '#fff' }}>
      <Panel top={TOPS[0]} domain={[-2.566, 2.507]} majors={[-2, -1, 0, 1, 2]}
        labels={['−2e−05', '−1e−05', '0e+00', '1e−05', '2e−05']} minorStep={0.2} years>
        <Line data={freqData} dataKey="v" stroke={RED} strokeWidth={2} dot={false} connectNulls={false} isAnimationActive={false} />
      </Panel>

      <Panel top={TOPS[1]} domain={[-3.156, 0.52]} majors={[-3, -2, -1, 0]}
        labels={['−3.00', '−2.00', '−1.00', '0.00']} nudge={[-1.5, 0, 0, 0]} minorStep={0.2}>
        <Line data={fdotEarlyData} dataKey="v" stroke={RED} strokeWidth={2} dot={false} connectNulls={false} isAnimationActive={false} />
        <Line data={fdotData} dataKey="v" stroke={RED} strokeWidth={1.6} dot={redSquare} isAnimationActive={false} />
      </Panel>

      <Panel top={TOPS[2]} domain={[-0.222, 0.222]} majors={[-0.2, -0.1, 0, 0.1, 0.2]}
        labels={['−0.20', '−0.10', '0.00', '0.10', '0.20']} nudge={[0, 0, 0, 0, 1.5]} minorStep={0.02}>
        <Scatter data={residualData} dataKey="v" shape={dot} isAnimationActive={false}>
          <ErrorBar dataKey="err" direction="y" width={3} stroke="#999" strokeWidth={1} isAnimationActive={false} />
        </Scatter>
      </Panel>

      <Panel top={TOPS[3]} domain={[0, 1.1]} majors={[0.2, 0.4, 0.6, 0.8, 1.0]}
        labels={['0.20', '0.40', '0.60', '0.80', '1.00']} minorStep={0.04}>
        <Scatter data={fluxData} dataKey="v" shape={dot} isAnimationActive={false}>
          <ErrorBar dataKey="err" direction="y" width={3} stroke="#999" strokeWidth={1} isAnimationActive={false} />
        </Scatter>
        <ReferenceLine segment={[{ x: 52170, y: 1.01 }, { x: 52203, y: 0.73 }]} shape={arrowShape} />
        <ReferenceLine segment={[{ x: 52272, y: 1.01 }, { x: 52226, y: 0.73 }]} shape={arrowShape} />
        <ReferenceLine segment={[{ x: 53177, y: 1.01 }, { x: 53177, y: 0.73 }]} shape={arrowShape} />
        <ReferenceLine segment={[{ x: 54457, y: 1.07 }, { x: 54205, y: 0.94 }]} shape={arrowShape} />
        <ReferenceLine segment={[{ x: 53949, y: 1.07 }, { x: 54200, y: 0.94 }]} stroke={BLUE} strokeWidth={1} strokeDasharray="2 2" />
      </Panel>

      <Panel top={TOPS[4]} domain={[0, 12.1]} majors={[0, 2, 4, 6, 8, 10, 12]}
        labels={['0.00', '2.00', '4.00', '6.00', '8.00', '10.00', '12.00']} minorStep={0.4} mjdText>
        <ReferenceLine y={chiUnity} stroke="#777" strokeWidth={0.8} />
        {chiLimits.map((c) => (
          <ReferenceLine key={`c${c}`} y={c} stroke="#777" strokeWidth={0.8} strokeDasharray="1.5 1.5" />
        ))}
        <Scatter data={chiData} dataKey="v" shape={openSquare} isAnimationActive={false} />
      </Panel>

      <svg width={W} height={H} style={{ position: 'absolute', left: 0, top: 0, pointerEvents: 'none' }}
        fontFamily={FONT} fontSize={10} fill={TEXT}>
        <text x={303} y={15} textAnchor="middle">Year</text>
        <text x={311} y={491.5} textAnchor="middle">Modified Julian Day</text>

        <text x={100} y={47}>(a)</text>
        <text x={100} y={134}>(b)</text>
        <text x={100} y={220}>(c)</text>
        <text x={100} y={307}>(d)</text>
        <text x={100} y={395}>(e)</text>

        <VText x={15} y={84}>Frequency</VText>
        <VText x={30} y={84}>−Trend</VText>
        <VText x={42} y={86}>
          (s<tspan dy={-4} fontSize={7}>−1</tspan><tspan dy={4}>)</tspan>
        </VText>

        <VText x={15} y={154}>Frequency</VText>
        <VText x={30} y={152}>Derivative</VText>
        <VText x={41.5} y={155}>
          (X 10<tspan dy={-4} fontSize={7}>−12</tspan><tspan dy={4}> s</tspan><tspan dy={-4} fontSize={7}>−2</tspan><tspan dy={4}>)</tspan>
        </VText>

        <VText x={30} y={255}>Residuals</VText>
        <VText x={41.5} y={255}>(phase)</VText>

        <VText x={30} y={333}>Pulsed Flux</VText>
        <VText x={41.5} y={332}>(Cnt/s/PCU)</VText>

        <VText x={30} y={416}>Pulse Profile</VText>
        <VText x={41.5} y={422}>
          Reduced Chi<tspan dy={-4} fontSize={7}>2</tspan>
        </VText>
      </svg>
    </div>
  );
}
